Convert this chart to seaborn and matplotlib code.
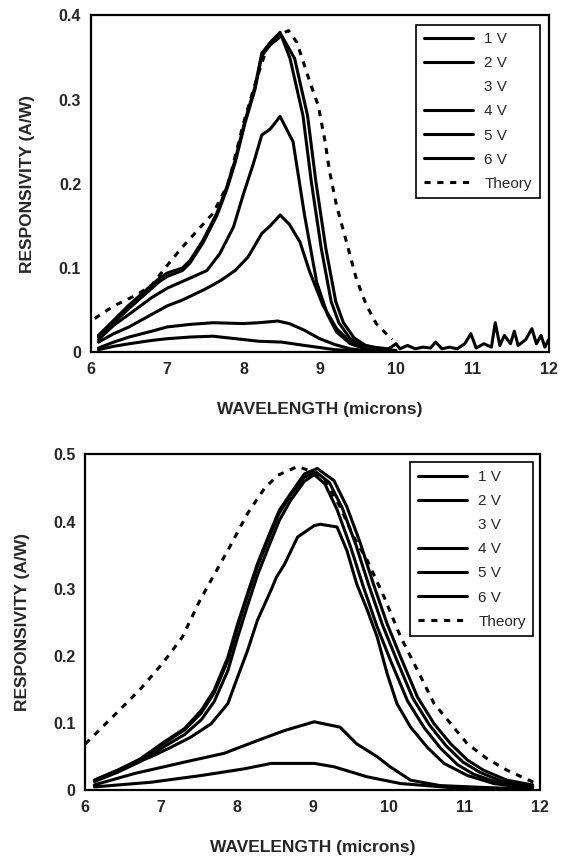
import matplotlib
matplotlib.use('Agg')
import matplotlib.pyplot as plt
import seaborn as sns
import pandas as pd

# top panel (peak near 8.5 um)
top_x_1v = [6.1, 6.3, 6.5, 6.8, 7.0, 7.3, 7.6, 7.9, 8.2, 8.5, 8.8, 9.2, 9.6, 10.0]
top_y_1v = [0.003, 0.007, 0.010, 0.014, 0.016, 0.018, 0.019, 0.016, 0.013, 0.012, 0.008, 0.003, 0.001, 0.0]

top_x_2v = [6.1, 6.3, 6.5, 6.8, 7.0, 7.3, 7.6, 8.0, 8.2, 8.45, 8.6, 8.8, 9.0, 9.2, 9.4, 9.7, 10.0]
top_y_2v = [0.005, 0.012, 0.018, 0.025, 0.030, 0.033, 0.035, 0.034, 0.035, 0.037, 0.034, 0.026, 0.016, 0.009, 0.004, 0.001, 0.0]

top_x_3v = [6.1, 6.3, 6.5, 6.8, 7.0, 7.2, 7.5, 7.7, 7.89, 8.06, 8.24, 8.35, 8.48, 8.6, 8.74, 8.87, 9.04, 9.22, 9.4, 9.6, 9.8]
top_y_3v = [0.012, 0.022, 0.030, 0.045, 0.055, 0.062, 0.075, 0.085, 0.097, 0.113, 0.141, 0.150, 0.163, 0.152, 0.131, 0.095, 0.056, 0.028, 0.012, 0.004, 0.001]

top_x_4v = [6.1, 6.3, 6.5, 6.8, 7.0, 7.2, 7.35, 7.52, 7.69, 7.87, 8.0, 8.13, 8.24, 8.35, 8.48, 8.65, 8.8, 8.96, 9.1, 9.22, 9.4, 9.6, 9.8]
top_y_4v = [0.015, 0.032, 0.045, 0.065, 0.076, 0.084, 0.090, 0.097, 0.117, 0.149, 0.188, 0.224, 0.258, 0.265, 0.280, 0.250, 0.163, 0.083, 0.045, 0.024, 0.010, 0.004, 0.001]

top_x_5v = [6.1, 6.3, 6.5, 6.7, 6.9, 7.0, 7.2, 7.3, 7.47, 7.65, 7.78, 7.89, 8.02, 8.15, 8.24, 8.35, 8.5,
            8.67, 8.84, 8.95, 9.08, 9.21, 9.31, 9.45, 9.6, 9.8, 10.0]
top_y_5v = [0.018, 0.035, 0.052, 0.068, 0.084, 0.090, 0.097, 0.106, 0.130, 0.162, 0.193, 0.225, 0.272, 0.312, 0.352, 0.365, 0.376,
            0.349, 0.281, 0.202, 0.123, 0.060, 0.035, 0.017, 0.008, 0.004, 0.002]

top_x_6v = [6.1, 6.3, 6.5, 6.7, 6.9, 7.0, 7.2, 7.3, 7.47, 7.65, 7.78, 7.89, 8.02, 8.15, 8.24, 8.35, 8.48,
            8.61, 8.78, 8.89, 9.02, 9.15, 9.25, 9.39, 9.5, 9.7, 9.9,
            10.0, 10.05, 10.15, 10.25, 10.35, 10.45, 10.52, 10.6, 10.7, 10.8, 10.9, 10.98, 11.05, 11.15,
            11.25, 11.3, 11.36, 11.42, 11.5, 11.55, 11.6, 11.7, 11.78, 11.84, 11.9, 11.95, 12.0]
top_y_6v = [0.020, 0.038, 0.056, 0.072, 0.088, 0.094, 0.100, 0.109, 0.133, 0.165, 0.196, 0.228, 0.275, 0.315, 0.355, 0.368, 0.380,
            0.349, 0.281, 0.202, 0.123, 0.060, 0.035, 0.017, 0.010, 0.006, 0.004,
            0.010, 0.004, 0.008, 0.004, 0.006, 0.005, 0.012, 0.004, 0.006, 0.004, 0.010, 0.022, 0.005, 0.010,
            0.006, 0.035, 0.008, 0.020, 0.010, 0.025, 0.008, 0.015, 0.028, 0.010, 0.020, 0.006, 0.015]

top_x_th = [6.05, 6.3, 6.6, 6.8, 7.0, 7.2, 7.4, 7.6, 7.8, 8.0, 8.15, 8.3, 8.45, 8.59, 8.70, 8.87, 8.98,
            9.07, 9.13, 9.22, 9.35, 9.48, 9.61, 9.74, 9.87, 9.95]
top_y_th = [0.040, 0.055, 0.068, 0.080, 0.103, 0.125, 0.145, 0.165, 0.200, 0.272, 0.318, 0.360, 0.376, 0.382, 0.368, 0.321, 0.293,
            0.250, 0.214, 0.174, 0.131, 0.087, 0.056, 0.034, 0.022, 0.015]

# bottom panel (peak near 9 um)
bot_x_1v = [6.12, 6.87, 7.53, 8.10, 8.45, 9.02, 9.28, 9.72, 10.16, 10.82, 11.5, 11.9]
bot_y_1v = [0.005, 0.012, 0.022, 0.032, 0.040, 0.040, 0.035, 0.020, 0.010, 0.004, 0.002, 0.001]

bot_x_2v = [6.12, 6.65, 7.31, 7.83, 8.27, 8.63, 9.02, 9.10, 9.36, 9.58, 9.85, 10.02, 10.29, 10.68, 11.3, 11.9]
bot_y_2v = [0.008, 0.025, 0.042, 0.055, 0.074, 0.089, 0.102, 0.100, 0.094, 0.069, 0.050, 0.035, 0.015, 0.007, 0.004, 0.002]

bot_x_3v = [6.12, 6.43, 6.87, 7.13, 7.39, 7.66, 7.88, 8.01, 8.14, 8.27, 8.45, 8.52, 8.63, 8.80, 9.02, 9.10,
            9.32, 9.45, 9.58, 9.72, 9.85, 9.98, 10.11, 10.29, 10.51, 10.73, 11.04, 11.39, 11.8]
bot_y_3v = [0.015, 0.030, 0.050, 0.064, 0.079, 0.099, 0.129, 0.169, 0.208, 0.253, 0.298, 0.317, 0.337, 0.377, 0.394, 0.396,
            0.392, 0.357, 0.307, 0.268, 0.228, 0.174, 0.129, 0.094, 0.064, 0.040, 0.022, 0.010, 0.004]

bot_x_4v = [6.12, 6.43, 6.73, 7.04, 7.31, 7.53, 7.70, 7.88, 8.01, 8.14, 8.27, 8.43, 8.56, 8.71, 8.89, 9.02,
            9.16, 9.32, 9.50, 9.67, 9.85, 10.03, 10.25, 10.47, 10.69, 10.91, 11.12, 11.45, 11.9]
bot_y_4v = [0.013, 0.027, 0.043, 0.065, 0.083, 0.105, 0.132, 0.178, 0.228, 0.275, 0.320, 0.366, 0.402, 0.432, 0.460, 0.470,
            0.456, 0.418, 0.362, 0.302, 0.243, 0.192, 0.133, 0.093, 0.062, 0.038, 0.024, 0.011, 0.005]

bot_x_5v = [6.12, 6.43, 6.73, 7.04, 7.31, 7.53, 7.70, 7.88, 8.01, 8.14, 8.27, 8.43, 8.56, 8.71, 8.89, 9.04,
            9.22, 9.39, 9.57, 9.74, 9.92, 10.10, 10.32, 10.54, 10.76, 10.98, 11.2, 11.5, 11.9]
bot_y_5v = [0.014, 0.029, 0.046, 0.070, 0.090, 0.115, 0.145, 0.193, 0.243, 0.290, 0.333, 0.378, 0.413, 0.440, 0.466, 0.474,
            0.458, 0.420, 0.365, 0.305, 0.246, 0.196, 0.137, 0.097, 0.066, 0.042, 0.027, 0.013, 0.006]

bot_x_6v = [6.12, 6.43, 6.73, 7.04, 7.31, 7.53, 7.70, 7.88, 8.01, 8.14, 8.27, 8.43, 8.56, 8.71, 8.89, 9.06,
            9.28, 9.45, 9.63, 9.80, 9.98, 10.16, 10.38, 10.60, 10.82, 11.04, 11.25, 11.56, 11.9]
bot_y_6v = [0.015, 0.030, 0.047, 0.072, 0.092, 0.119, 0.149, 0.198, 0.248, 0.293, 0.337, 0.382, 0.417, 0.442, 0.471, 0.479,
            0.461, 0.422, 0.367, 0.307, 0.248, 0.198, 0.139, 0.099, 0.069, 0.045, 0.030, 0.015, 0.008]

bot_x_th = [6.0, 6.43, 6.73, 7.02, 7.28, 7.50, 7.68, 7.88, 8.14, 8.36, 8.54, 8.80, 9.0, 9.17, 9.36, 9.54,
            9.72, 9.94, 10.16, 10.38, 10.60, 10.82, 11.04, 11.30, 11.56, 11.85, 11.95]
bot_y_th = [0.069, 0.117, 0.151, 0.189, 0.228, 0.280, 0.317, 0.357, 0.412, 0.449, 0.469, 0.482, 0.474, 0.459, 0.422, 0.377,
            0.342, 0.288, 0.228, 0.179, 0.129, 0.099, 0.069, 0.047, 0.030, 0.015, 0.010]

labels = ['1 V', '2 V', '3 V', '4 V', '5 V', '6 V', 'Theory']


def make_df(xs, ys):
    rows = []
    for lab, x, y in zip(labels, xs, ys):
        for a, b in zip(x, y):
            rows.append({'wavelength': a, 'resp': b, 'series': lab})
    return pd.DataFrame(rows)


df_top = make_df([top_x_1v, top_x_2v, top_x_3v, top_x_4v, top_x_5v, top_x_6v, top_x_th],
                 [top_y_1v, top_y_2v, top_y_3v, top_y_4v, top_y_5v, top_y_6v, top_y_th])
df_bot = make_df([bot_x_1v, bot_x_2v, bot_x_3v, bot_x_4v, bot_x_5v, bot_x_6v, bot_x_th],
                 [bot_y_1v, bot_y_2v, bot_y_3v, bot_y_4v, bot_y_5v, bot_y_6v, bot_y_th])

sns.set_style('white')
plt.rcParams['font.family'] = ['Liberation Sans', 'DejaVu Sans']

fig = plt.figure(figsize=(5.61, 8.59), dpi=100)
ax1 = fig.add_axes([0.162, 0.590, 0.816, 0.392])
ax2 = fig.add_axes([0.152, 0.080, 0.811, 0.391])

pal = {lab: 'black' for lab in labels}
dash = {lab: '' for lab in labels}
dash['Theory'] = (2, 2.2)


def draw(ax, df, ymax, anchor):
    sns.lineplot(data=df, x='wavelength', y='resp', hue='series', style='series',
                 palette=pal, dashes=dash, estimator=None, sort=False,
                 linewidth=2.2, ax=ax)
    ax.set_xlim(6, 12)
    ax.set_ylim(0, ymax)
    ax.set_xticks(range(6, 13))
    yt = [i / 10 for i in range(int(round(ymax * 10)) + 1)]
    ax.set_yticks(yt)
    ax.set_yticklabels(['0' if v == 0 else f'{v:g}' for v in yt])
    ax.tick_params(direction='in', length=3, width=1, pad=7, labelsize=11.5)
    for t in ax.get_xticklabels() + ax.get_yticklabels():
        t.set_fontweight('bold')
    for s in ax.spines.values():
        s.set_linewidth(1.6)
        s.set_color('black')
    ax.set_xlabel('WAVELENGTH (microns)', fontsize=12.5, fontweight='bold', labelpad=18)
    ax.set_ylabel('RESPONSIVITY (A/W)', fontsize=12.5, fontweight='bold', labelpad=17)

    handles, labs = ax.get_legend_handles_labels()
    leg = ax.legend(handles, labs, loc='upper right', bbox_to_anchor=anchor,
                    fontsize=11, handlelength=3.2, handletextpad=0.75,
                    labelspacing=0.66, borderpad=0.5, borderaxespad=0,
                    fancybox=False, framealpha=1, edgecolor='black')
    leg.get_frame().set_linewidth(1.2)
    for h, lab in zip(leg.get_lines(), labs):
        h.set_linewidth(2.2)
        if lab == '3 V':
            h.set_color('white')


draw(ax1, df_top, 0.4, (0.98, 0.973))
draw(ax2, df_bot, 0.5, (0.985, 0.976))

fig.savefig('out.png', dpi=100)
